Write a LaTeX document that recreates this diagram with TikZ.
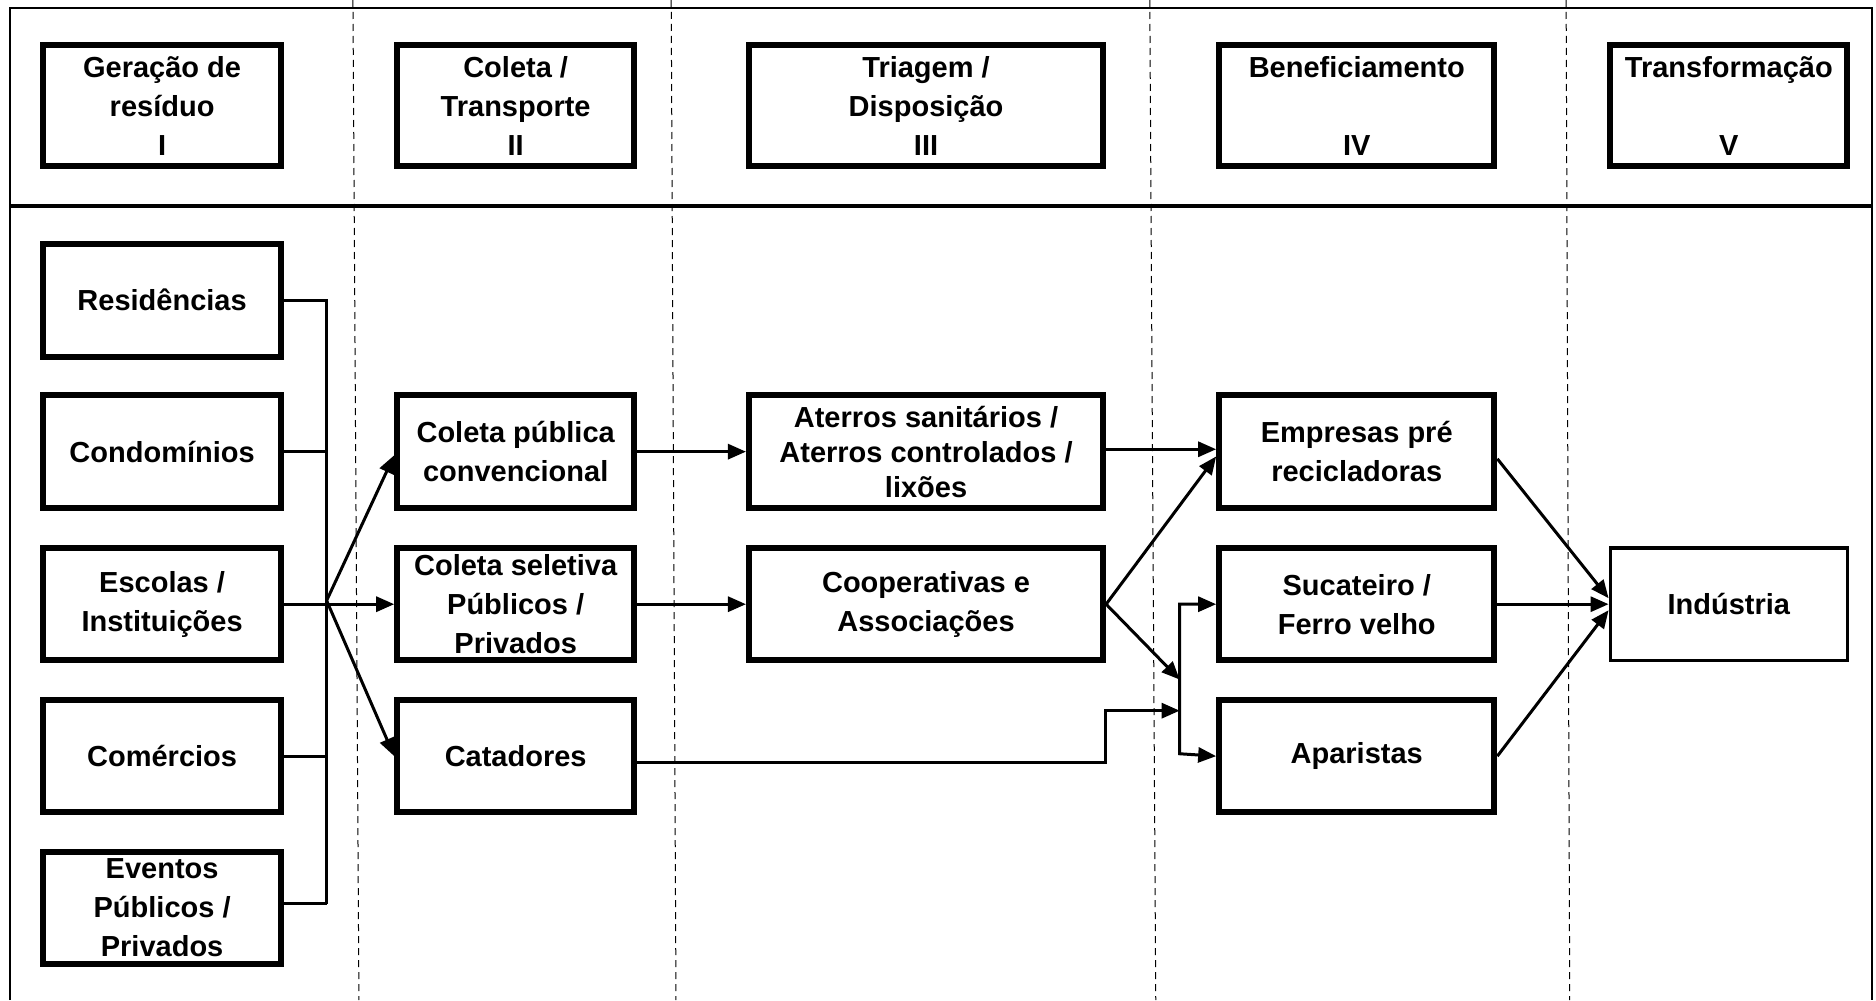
\documentclass[tikz,border=0pt]{standalone}
\usepackage{fontspec}
\setmainfont{Liberation Sans}
\usetikzlibrary{arrows.meta,calc}
\tikzset{
  box/.style={draw, fill=white, line width=3pt, inner sep=0pt, align=center,
    font=\bfseries\fontsize{14.5}{19.5}\selectfont},
  thinbox/.style={box, line width=1.8pt},
  conn/.style={line width=1.5pt},
  arr/.style={conn, -{Triangle[length=9pt,width=7.5pt]}},
  darr/.style={conn, {Triangle[length=9pt,width=7.5pt]}-{Triangle[length=9pt,width=7.5pt]}},
  sep/.style={line width=0.5pt, dash pattern=on 3.5pt off 2.5pt}
}
% \mybox[style]{name}{x1}{y1}{x2}{y2}{text}
\newcommand\mybox[7][box]{%
  \node[#1, minimum width={(#5-#3)*0.5982pt}, minimum height={(#6-#4)*0.5982pt}]
    (#2) at ({(#3+#5)/2},{(#4+#6)/2}) {#7};}
\begin{document}
\begin{tikzpicture}[x=0.5982pt, y=-0.5982pt]
\useasboundingbox (0,0) rectangle (1568,836);
% frame
\draw[line width=1pt] (8,836) -- (8,7) -- (1565,7) -- (1565,836);
\draw[line width=2pt] (8,172) -- (1565,172);
% column separators
\draw[sep] (295,0) -- (300,836);
\draw[sep] (561,0) -- (565,836);
\draw[sep] (961,0) -- (966,836);
\draw[sep] (1309,0) -- (1312,836);
% headers
\mybox{hI}{36}{38}{235}{139}{Geração de\\resíduo\\I}
\mybox{hII}{332}{38}{530}{139}{Coleta /\\Transporte\\II}
\mybox{hIII}{626}{38}{922}{139}{Triagem /\\Disposição\\III}
\mybox{hIV}{1019}{38}{1249}{139}{Beneficiamento\\\mbox{}\\IV}
\mybox{hV}{1346}{38}{1544}{139}{Transformação\\\mbox{}\\V}
% column I
\mybox{res}{36}{204}{235}{298}{Residências}
\mybox{con}{36}{330}{235}{425}{Condomínios}
\mybox{esc}{36}{458}{235}{552}{Escolas /\\Instituições}
\mybox{com}{36}{585}{235}{679}{Comércios}
\mybox{eve}{36}{712}{235}{806}{Eventos\\Públicos /\\Privados}
% column II
\mybox{cpub}{332}{330}{530}{425}{Coleta pública\\convencional}
\mybox{csel}{332}{458}{530}{552}{Coleta seletiva\\Públicos /\\Privados}
\mybox{cat}{332}{585}{530}{679}{Catadores}
% column III
\mybox[box, font=\bfseries\fontsize{14.5}{17.5}\selectfont]{ate}{626}{330}{922}{425}{Aterros sanitários /\\Aterros controlados /\\lixões}
\mybox{coop}{626}{458}{922}{552}{Cooperativas e\\Associações}
% column IV
\mybox{emp}{1019}{330}{1249}{425}{Empresas pré\\recicladoras}
\mybox{suc}{1019}{458}{1249}{552}{Sucateiro /\\Ferro velho}
\mybox{apa}{1019}{585}{1249}{679}{Aparistas}
% column V
\mybox[thinbox]{ind}{1346}{458}{1544}{552}{Indústria}
% bus from generators
\coordinate (bus) at (273,502);
\draw[conn] (res.east) -- (res.east -| bus);
\draw[conn] (con.east) -- (con.east -| bus);
\draw[conn] (com.east) -- (com.east -| bus);
\draw[conn] ($(eve.east)+(0,-4)$) -- ($(eve.east -| bus)+(0,-4)$);
\draw[conn] ($(res.east -| bus)+(0,-0.7)$) -- ($(eve.east -| bus)+(0,-3.3)$);
\draw[arr] (esc.east) -- (csel.west);
\draw[arr] (bus) -- ($(cpub.west)+(0,3)$);
\draw[arr] (bus) -- (cat.west);
% II -> III
\draw[arr] (cpub.east) -- (ate.west);
\draw[arr] (csel.east) -- (coop.west);
% III -> IV
\draw[arr] ($(ate.east)+(0,-2)$) -- ($(emp.west)+(0,-2)$);
\draw[arr] (coop.east) -- ($(emp.west)+(0,4)$);
\coordinate (jt) at (986,505);
\coordinate (jb) at (986,630);
\draw[darr] (suc.west) -- (jt) -- (jb) -- (apa.west);
\draw[arr] (coop.east) -- (986,568);
\coordinate (cbend) at (924,594);
\draw[arr] ($(cat.east)+(0,5)$) -- (cbend |- {$(cat.east)+(0,5)$}) -- (cbend) -- (986,594);
% IV -> V
\draw[arr] ($(emp.east)+(0,6)$) -- ($(ind.west)+(0,-5)$);
\draw[arr] (suc.east) -- (ind.west);
\draw[arr] (apa.east) -- ($(ind.west)+(0,5)$);
\end{tikzpicture}
\end{document}
